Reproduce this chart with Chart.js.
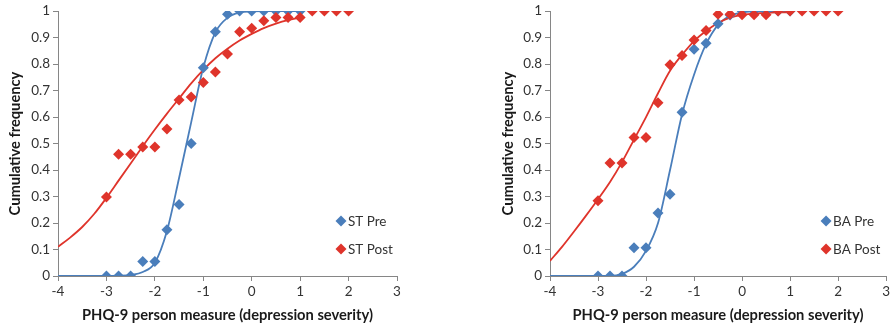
<!DOCTYPE html>
<html>
<head>
<meta charset="utf-8">
<script src="https://cdn.jsdelivr.net/npm/chart.js@4.4.0/dist/chart.umd.min.js"></script>
<style>
body { margin: 0; background: #fff; }
#wrap { position: relative; width: 893px; height: 327px; }
canvas { position: absolute; top: 0; }
</style>
</head>
<body>
<div id="wrap">
  <canvas id="left" width="446" height="327" style="left:0"></canvas>
  <canvas id="right" width="447" height="327" style="left:446px"></canvas>
</div>
<script>
// observed cumulative frequencies (person measure -> proportion)
var stPreX  = [-3,-2.75,-2.5,-2.25,-2,-1.75,-1.5,-1.25,-1,-0.75,-0.5,-0.25,0,0.25,0.5,0.75,1];
var stPre   = [0,0,0,0.055,0.055,0.175,0.27,0.50,0.786,0.922,0.988,1,1,1,1,1,1];
var stPostX = [-3,-2.75,-2.5,-2.25,-2,-1.75,-1.5,-1.25,-1,-0.75,-0.5,-0.25,0,0.25,0.5,0.75,1,1.25,1.5,1.75,2];
var stPost  = [0.298,0.46,0.46,0.487,0.487,0.555,0.664,0.676,0.73,0.77,0.838,0.922,0.935,0.964,0.976,0.976,0.976,1,1,1,1];

var baPreX  = [-3,-2.75,-2.5,-2.25,-2,-1.75,-1.5,-1.25,-1,-0.75,-0.5,-0.25,0,0.25,0.5,0.75,1];
var baPre   = [0,0,0,0.107,0.107,0.238,0.309,0.618,0.856,0.879,0.952,0.985,1,1,1,1,1];
var baPostX = [-3,-2.75,-2.5,-2.25,-2,-1.75,-1.5,-1.25,-1,-0.75,-0.5,-0.25,0,0.25,0.5,0.75,1,1.25,1.5,1.75,2];
var baPost  = [0.284,0.427,0.427,0.523,0.523,0.654,0.797,0.832,0.891,0.927,0.988,0.988,0.986,0.986,0.986,1,1,1,1,1,1];

// fitted curves
var fitX      = [-4,-3.75,-3.5,-3.25,-3,-2.75,-2.5,-2.25,-2,-1.75,-1.5,-1.25,-1,-0.75,-0.5,-0.25,0,0.25,0.5,0.75,1];
var stPreFit  = [0,0,0,0,0,0.001,0.004,0.015,0.05,0.17,0.37,0.58,0.787,0.92,0.975,0.995,0.999,1,1,1,1];
var stPostFit = [0.11,0.145,0.185,0.235,0.295,0.36,0.425,0.49,0.553,0.613,0.67,0.727,0.778,0.822,0.858,0.889,0.914,0.936,0.953,0.966,0.975];
var baPreFit  = [0,0,0,0,0,0,0.008,0.035,0.095,0.2,0.4,0.61,0.76,0.875,0.948,0.982,0.995,0.999,1,1,1];
var baPostFit = [0.057,0.11,0.168,0.228,0.29,0.355,0.43,0.515,0.6,0.69,0.775,0.835,0.887,0.925,0.955,0.975,0.986,0.99,0.993,0.995,0.996];

var xTicks = [-4,-3,-2,-1,0,1,2,3];

var BLUE = "#4A7EBB";
var RED = "#DF342B";
var FONT = "Lato, 'Open Sans', sans-serif";

function pts(xs, ys) {
    return xs.map(function (x, i) { return { x: x, y: ys[i] }; });
}

function markers(label, xs, ys, color) {
    return {
        label: label,
        data: pts(xs, ys),
        showLine: false,
        pointStyle: "rectRot",
        pointRadius: 5.5,
        backgroundColor: color,
        borderColor: color,
        borderWidth: 0
    };
}

function curve(xs, ys, color) {
    return {
        label: "",
        data: pts(xs, ys),
        showLine: true,
        borderColor: color,
        borderWidth: 1.8,
        pointRadius: 0,
        cubicInterpolationMode: "monotone",
        fill: false
    };
}

// draws the small legend inside the plot like in Excel
var legendBox = {
    id: "legendBox",
    afterDraw: function (chart, args, opts) {
        var ctx = chart.ctx;
        var ca = chart.chartArea;
        ctx.save();
        ctx.font = "13.5px " + FONT;
        ctx.textBaseline = "middle";
        opts.items.forEach(function (it, i) {
            var cx = ca.right - opts.right;
            var cy = ca.bottom - opts.bottom + i * 28;
            ctx.fillStyle = it.color;
            ctx.beginPath();
            ctx.moveTo(cx - 5.5, cy);
            ctx.lineTo(cx, cy - 5.5);
            ctx.lineTo(cx + 5.5, cy);
            ctx.lineTo(cx, cy + 5.5);
            ctx.closePath();
            ctx.fill();
            ctx.fillStyle = "#333333";
            ctx.fillText(it.text, cx + 7, cy + 1);
        });
        ctx.restore();
    }
};

function makeChart(id, datasets, legendItems, yWidth, titlePad, padRight, legRight) {
    return new Chart(document.getElementById(id), {
        type: "scatter",
        data: { datasets: datasets },
        plugins: [legendBox],
        options: {
            responsive: false,
            animation: false,
            layout: { padding: { top: 11, right: padRight, left: 0, bottom: 0 } },
            plugins: {
                legend: { display: false },
                tooltip: { enabled: false },
                legendBox: { items: legendItems, right: legRight, bottom: 55 }
            },
            scales: {
                x: {
                    type: "linear",
                    min: -4,
                    max: 3,
                    afterBuildTicks: function (axis) {
                        axis.ticks = xTicks.map(function (v) { return { value: v }; });
                    },
                    afterFit: function (axis) { axis.height = 51; },
                    grid: { drawOnChartArea: false, drawTicks: true, tickLength: 5, color: "#868686" },
                    border: { color: "#868686", width: 1 },
                    ticks: { color: "#333333", font: { family: FONT, size: 13.5 }, padding: 3, maxRotation: 0 },
                    title: {
                        display: true,
                        text: "PHQ-9 person measure (depression severity)",
                        color: "#1a1a1a",
                        font: { family: FONT, size: 14.7, weight: "bold" },
                        padding: { top: 0, bottom: 3 }
                    }
                },
                y: {
                    min: 0,
                    max: 1,
                    ticks: {
                        stepSize: 0.1,
                        color: "#333333",
                        font: { family: FONT, size: 13.5 },
                        padding: 3,
                        callback: function (v) { return String(Math.round(v * 10) / 10); }
                    },
                    afterFit: function (axis) { axis.width = yWidth; },
                    grid: { drawOnChartArea: false, drawTicks: true, tickLength: 5, color: "#868686" },
                    border: { color: "#868686", width: 1 },
                    title: {
                        display: true,
                        text: "Cumulative frequency",
                        color: "#1a1a1a",
                        font: { family: FONT, size: 14.7, weight: "bold" },
                        padding: { top: titlePad, bottom: 0 }
                    }
                }
            }
        }
    });
}

makeChart("left", [
    markers("ST Post", stPostX, stPost, RED),
    markers("ST Pre", stPreX, stPre, BLUE),
    curve(fitX, stPostFit, RED),
    curve(fitX, stPreFit, BLUE)
], [{ text: "ST Pre", color: BLUE }, { text: "ST Post", color: RED }], 58, 6, 49, 56);

makeChart("right", [
    markers("BA Post", baPostX, baPost, RED),
    markers("BA Pre", baPreX, baPre, BLUE),
    curve(fitX, baPostFit, RED),
    curve(fitX, baPreFit, BLUE)
], [{ text: "BA Pre", color: BLUE }, { text: "BA Post", color: RED }], 104, 53, 6, 60);
</script>
</body>
</html>
